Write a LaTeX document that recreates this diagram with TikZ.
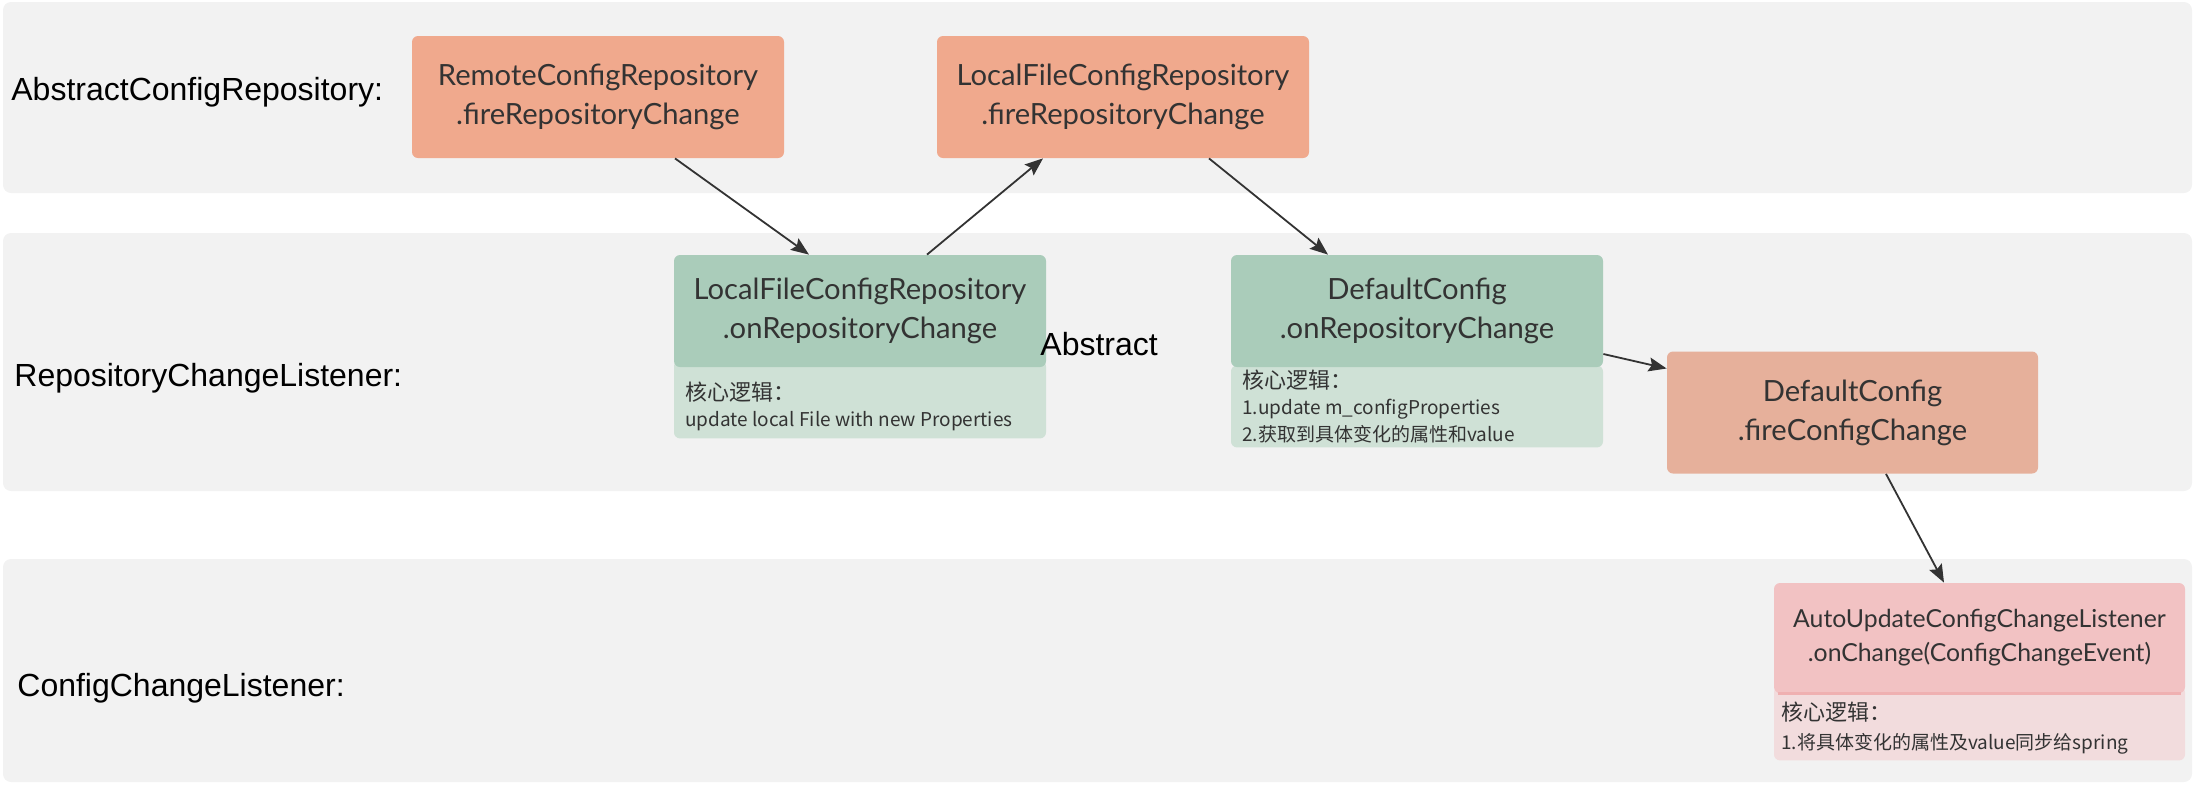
\documentclass[tikz,border=0pt]{standalone}
\usepackage{fontspec}
\setmainfont{Liberation Sans}
\newfontfamily\boxfont{Lato}
\newfontfamily\cjkfont{Noto Sans CJK SC}
\usetikzlibrary{arrows.meta}
\definecolor{bandgray}{HTML}{F2F2F2}
\definecolor{salmon}{HTML}{F0A98D}
\definecolor{firesalmon}{HTML}{E6B09B}
\definecolor{sage}{HTML}{AACCBA}
\definecolor{sagelight}{HTML}{CFE1D6}
\definecolor{rose}{HTML}{F2C2C3}
\definecolor{roselight}{HTML}{F2DCDD}
\definecolor{roseline}{HTML}{EFB0B1}
\definecolor{inkgray}{HTML}{333333}
\begin{document}
\begin{tikzpicture}[x=0.5pt, y=-0.5pt,
    band/.style={fill=bandgray, draw=none, rounded corners=4pt},
    lane/.style={anchor=west, inner sep=0pt, font=\fontsize{16}{19}\selectfont},
    method/.style={rounded corners=3pt, minimum width=186pt, minimum height=61pt,
      align=center, text=inkgray, inner sep=0pt,
      font=\boxfont\fontsize{14.6}{19.5}\selectfont},
    panel/.style={rounded corners=3pt, minimum width=186pt, inner sep=0pt, anchor=north},
    notehead/.style={anchor=west, inner sep=0pt, text=inkgray, font=\cjkfont\fontsize{11}{13}\selectfont},
    note/.style={anchor=west, inner sep=0pt, text=inkgray, font=\cjkfont\fontsize{9.5}{12}\selectfont},
    flow/.style={draw=inkgray, line width=0.9pt, -{Stealth[length=9pt, width=7pt, inset=1.5pt]}}]
  \useasboundingbox (0,0) rectangle (2196,784);

  \fill[band] (3,2) rectangle (2192,193);
  \fill[band] (3,233) rectangle (2192,491);
  \fill[band] (3,559) rectangle (2192,782);

  \node[lane] (abstractrepo) at (11,92) {AbstractConfigRepository:};
  \node[lane] (repolistener) at (14,378) {RepositoryChangeListener:};
  \node[lane] (configlistener) at (17,688) {ConfigChangeListener:};

  \node[method, fill=salmon] (remotefire) at (598,97)
    {RemoteConfigRepository\\.fireRepositoryChange};
  \node[method, fill=salmon] (localfire) at (1123,97)
    {LocalFileConfigRepository\\.fireRepositoryChange};

  \node[panel, fill=sagelight, minimum height=39pt] (localpanel) at (860,360) {};
  \node[method, fill=sage, minimum height=56pt] (localon) at (860,311)
    {LocalFileConfigRepository\\.onRepositoryChange};
  \node[notehead] (localhead) at (685,392) {核心逻辑：};
  \node[note] (localnote) at (685,421) {update local File with new Properties};

  \node[lane] (abstractword) at (1040,344) {Abstract};

  \node[panel, fill=sagelight, minimum height=41pt] (defaultpanel) at (1417,365) {};
  \node[method, fill=sage, minimum height=56pt] (defaulton) at (1417,311)
    {DefaultConfig\\.onRepositoryChange};
  \node[notehead] (defaulthead) at (1242,380) {核心逻辑：};
  \node[note] (defaultnote1) at (1242,409) {1.update m\_configProperties};
  \node[note] (defaultnote2) at (1242,434) {2.获取到具体变化的属性和value};

  \node[method, fill=firesalmon, minimum width=185.5pt] (defaultfire) at (1852.5,412.5)
    {DefaultConfig\\.fireConfigChange};

  \node[panel, fill=roselight, minimum width=205.5pt, minimum height=37pt] (autopanel) at (1979.5,686) {};
  \node[method, fill=rose, minimum width=205.5pt, minimum height=55pt,
    font=\boxfont\fontsize{12.4}{17}\selectfont] (autochange) at (1979.5,638)
    {AutoUpdateConfigChangeListener\\.onChange(ConfigChangeEvent)};
  \draw[roseline, line width=1.5pt] ([xshift=2pt]autochange.south west) -- ([xshift=-2pt]autochange.south east);
  \node[notehead] (autohead) at (1781,712) {核心逻辑：};
  \node[note] (autonote) at (1781,744) {1.将具体变化的属性及value同步给spring};

  \draw[flow] ([xshift=38.5pt]remotefire.south) -- ([xshift=-25.5pt]localon.north);
  \draw[flow] ([xshift=33.5pt]localon.north) -- ([xshift=-40pt]localfire.south);
  \draw[flow] ([xshift=43pt]localfire.south) -- ([xshift=-44.5pt]defaulton.north);
  \draw[flow] ([yshift=-21.5pt]defaulton.east) -- ([yshift=22pt]defaultfire.west);
  \draw[flow] ([xshift=16.75pt]defaultfire.south) -- ([xshift=-17.75pt]autochange.north);
\end{tikzpicture}
\end{document}
